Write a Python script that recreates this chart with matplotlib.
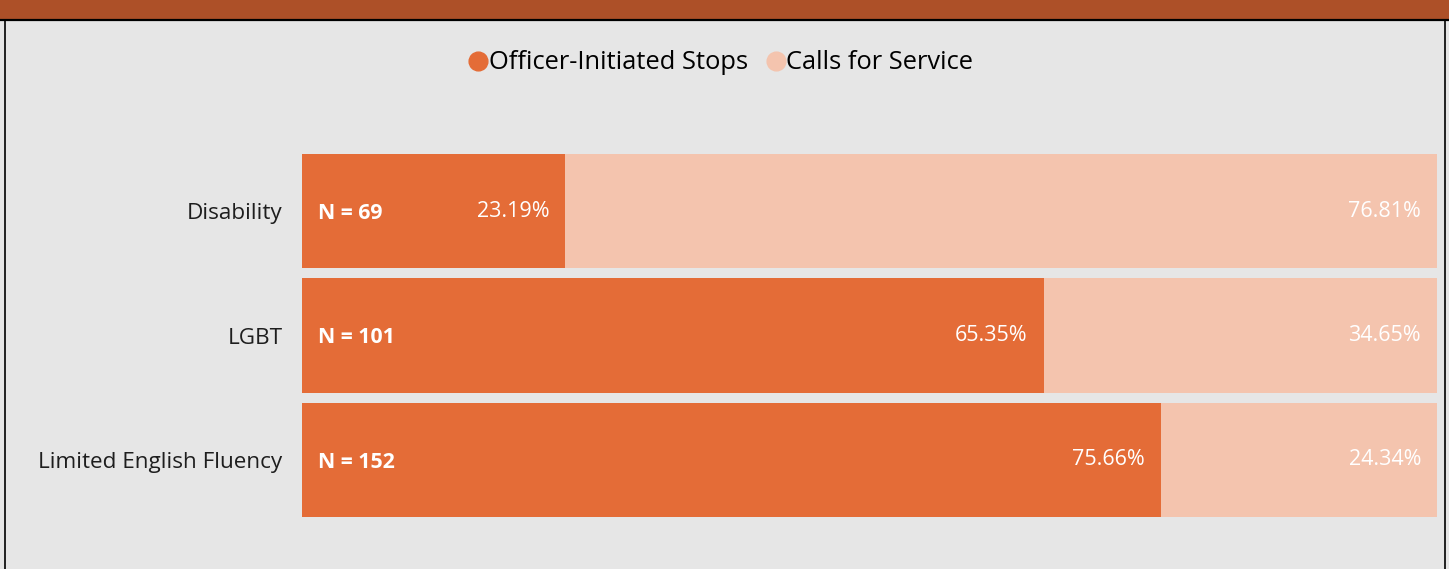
import matplotlib.pyplot as plt
from matplotlib.lines import Line2D
from matplotlib.patches import Rectangle

plt.rcParams['font.family'] = ['Open Sans', 'DejaVu Sans']

categories = ['Disability', 'LGBT', 'Limited English Fluency']
officer_pct = [23.19, 65.35, 75.66]
calls_pct = [76.81, 34.65, 24.34]
counts = [69, 101, 152]

orange = '#E46C37'
peach = '#F4C4AE'
bg = '#E6E6E6'

W, H = 1449, 569
fig = plt.figure(figsize=(W / 100, H / 100), dpi=100)
fig.patch.set_facecolor(bg)

# header band and panel border
fig.patches.append(Rectangle((0, 1 - 19 / H), 1, 19 / H, transform=fig.transFigure,
                             facecolor='#AD5028', edgecolor='none', zorder=0))
fig.add_artist(Line2D([0, 1], [1 - 20 / H, 1 - 20 / H], color='black', lw=1.6, transform=fig.transFigure))
fig.add_artist(Line2D([4.5 / W, 4.5 / W], [0, 1 - 20 / H], color='black', lw=1.2, transform=fig.transFigure))
fig.add_artist(Line2D([1444.5 / W, 1444.5 / W], [0, 1 - 20 / H], color='black', lw=1.2, transform=fig.transFigure))

ax = fig.add_axes([302 / W, (H - 517) / H, 1135 / W, 363 / H])
ax.set_facecolor(bg)
y = list(range(len(categories)))
ax.barh(y, officer_pct, height=0.92, color=orange)
ax.barh(y, calls_pct, left=officer_pct, height=0.92, color=peach)
ax.set_xlim(0, 100)
ax.set_ylim(2.46, -0.46)
for s in ax.spines.values():
    s.set_visible(False)
ax.set_xticks([])
ax.set_yticks(y)
ax.set_yticklabels(categories, fontsize=16.2, color='#1e1e1e')
ax.tick_params(axis='y', length=0, pad=14)

off = 16 * 100 / 1135
for i in y:
    ax.text(1.4, i + 0.02, f'N = {counts[i]}', color='white', fontsize=15.3,
            fontweight='bold', va='center', ha='left')
    ax.text(officer_pct[i] - off, i, f'{officer_pct[i]:.2f}%', color='white',
            fontsize=15.5, va='center', ha='right')
    ax.text(100 - off, i, f'{calls_pct[i]:.2f}%', color='white',
            fontsize=15.5, va='center', ha='right')

handles = [Line2D([], [], marker='o', ls='none', color=orange, markersize=13.5),
           Line2D([], [], marker='o', ls='none', color=peach, markersize=13.5)]
fig.legend(handles, ['Officer-Initiated Stops', 'Calls for Service'], ncol=2,
           loc='center', bbox_to_anchor=(722 / W, 1 - 63 / H), frameon=False,
           fontsize=18.4, handlelength=0.6, handletextpad=0.1, columnspacing=0.8)

fig.savefig('out.png', dpi=100, facecolor=bg)
